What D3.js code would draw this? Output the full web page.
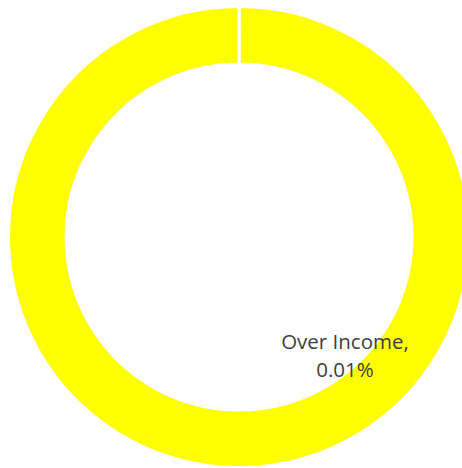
<!DOCTYPE html>
<html>
<head>
<meta charset="utf-8">
<script src="https://cdn.jsdelivr.net/npm/d3@7"></script>
<style>
  html, body { margin: 0; padding: 0; background: #fff; }
  svg { display: block; }
</style>
</head>
<body>
<svg id="chart" width="462" height="468"></svg>
<script>
// Donut slices (percent of total)
const categories = ["Over Income", "Within Income"];
const values = [0.01, 99.99];
const colors = ["#FFFF00", "#FFFF00"];
const labelTexts = ["Over Income,", "0.01%"];

const width = 462, height = 468;
const cx = 239, cy = 237;
const strokeW = 3.5;
// radii include half the white separator stroke on each edge
const outerR = 229 + strokeW / 2, innerR = 174.5 - strokeW / 2;

const svg = d3.select("#chart");
const g = svg.append("g").attr("transform", `translate(${cx},${cy})`);

const pie = d3.pie().sort(null).value(d => d.value);
const arcs = pie(categories.map((c, i) => ({ name: c, value: values[i], color: colors[i] })));
const arc = d3.arc().innerRadius(innerR).outerRadius(outerR);

g.selectAll("path.slice")
  .data(arcs)
  .join("path")
  .attr("class", "slice")
  .attr("d", arc)
  .attr("fill", d => d.data.color)
  .attr("stroke", "#fff")
  .attr("stroke-width", strokeW)
  .attr("stroke-linejoin", "miter");

// Data label for the small slice
const label = svg.append("text")
  .attr("x", 345)
  .attr("y", 349)
  .attr("text-anchor", "middle")
  .attr("fill", "#404040")
  .attr("font-family", "'Open Sans', 'Liberation Sans', sans-serif")
  .attr("font-size", 20.5);

label.selectAll("tspan")
  .data(labelTexts)
  .join("tspan")
  .attr("x", 345)
  .attr("dy", (d, i) => i === 0 ? 0 : 28)
  .text(d => d);
</script>
</body>
</html>
